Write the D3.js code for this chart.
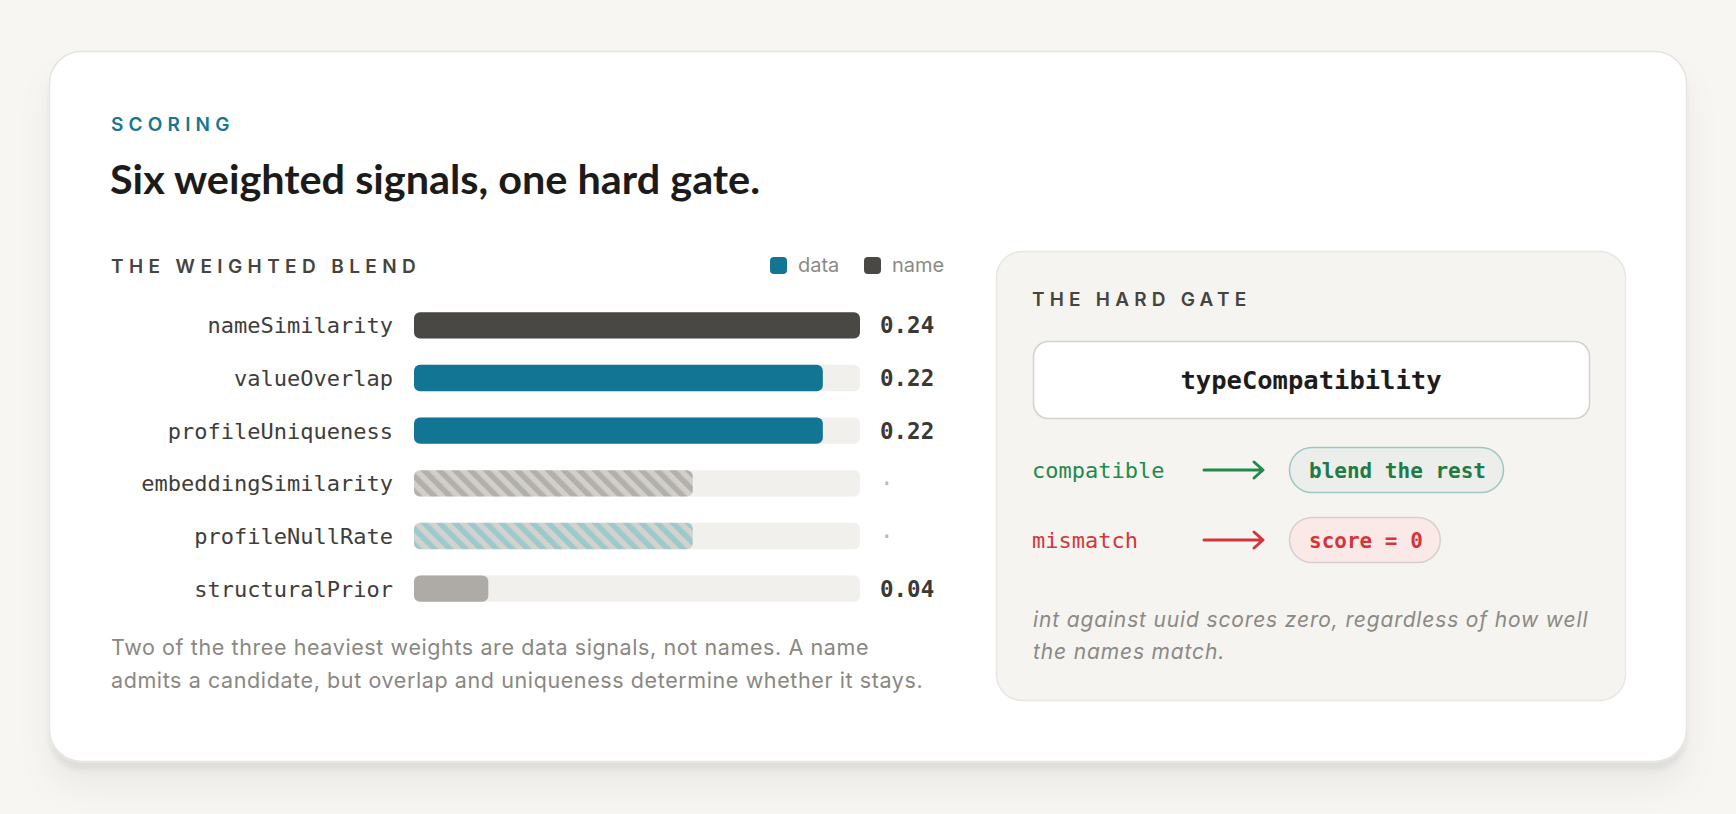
<!DOCTYPE html>
<html>
<head>
<meta charset="utf-8">
<script src="https://cdn.jsdelivr.net/npm/d3@7"></script>
<style>
  html, body { margin: 0; padding: 0; background: #f7f6f3; }
  svg { display: block; }
</style>
</head>
<body>
<svg id="scoring-chart"></svg>
<script>
// ----- Data -----
const signal_names = ["nameSimilarity", "valueOverlap", "profileUniqueness", "embeddingSimilarity", "profileNullRate", "structuralPrior"];
const signal_weights = [0.24, 0.22, 0.22, 0.15, 0.15, 0.04];
const signal_kinds = ["name", "data", "data", "name-off", "data-off", "prior"];
const weight_labels = ["0.24", "0.22", "0.22", "·", "·", "0.04"];
const legend_keys = ["data", "name"];
const gate_outcomes = ["compatible", "mismatch"];
const gate_results = ["blend the rest", "score = 0"];

const MONO = "'DejaVu Sans Mono', monospace";
const SANS = "Inter, 'Noto Sans', sans-serif";

// Colours for each kind of bar
const kind_fill = {
    "name": "#4a4844",
    "data": "#137594",
    "name-off": "url(#hatch-gray)",
    "data-off": "url(#hatch-teal)",
    "prior": "#aeaba6"
};
const legend_color = { data: "#137594", name: "#4a4844" };
const outcome_color = { compatible: "#1f8a4a", mismatch: "#d2363b" };

const width = 1736, height = 814;
const svg = d3.select("#scoring-chart").attr("width", width).attr("height", height);
const defs = svg.append("defs");

// Soft card shadow
const shadow = defs.append("filter").attr("id", "card-shadow")
    .attr("x", "-10%").attr("y", "-10%").attr("width", "120%").attr("height", "130%");
shadow.append("feDropShadow").attr("dx", 0).attr("dy", 24).attr("stdDeviation", 16)
    .attr("flood-color", "#000").attr("flood-opacity", 0.05);
shadow.append("feDropShadow").attr("dx", 0).attr("dy", 8).attr("stdDeviation", 2)
    .attr("flood-color", "#000").attr("flood-opacity", 0.06);

// Diagonal hatch patterns for the signals that are not active
function add_hatch(id, stripe, base) {
    const p = defs.append("pattern").attr("id", id)
        .attr("patternUnits", "userSpaceOnUse")
        .attr("width", 11).attr("height", 11)
        .attr("patternTransform", "rotate(-45)");
    p.append("rect").attr("width", 11).attr("height", 11).attr("fill", base);
    p.append("rect").attr("width", 5.5).attr("height", 11).attr("fill", stripe);
}
add_hatch("hatch-gray", "#b3b0ab", "#d1cfcb");
add_hatch("hatch-teal", "#9ccacc", "#d3d2ce");

// Background card
svg.append("rect")
    .attr("x", 49.5).attr("y", 51.5).attr("width", 1637).attr("height", 710)
    .attr("rx", 32).attr("fill", "#fff")
    .attr("stroke", "#e6e4e0").attr("stroke-width", 1.5)
    .attr("filter", "url(#card-shadow)");

// Eyebrow and title
svg.append("text").attr("x", 111).attr("y", 131)
    .attr("font-family", SANS).attr("font-size", 19).attr("font-weight", 600)
    .attr("letter-spacing", 5.2).attr("fill", "#177793")
    .text("SCORING");
svg.append("text").attr("x", 110).attr("y", 194)
    .attr("font-family", "Lato, sans-serif").attr("font-size", 41).attr("font-weight", 700)
    .attr("textLength", 650).attr("lengthAdjust", "spacingAndGlyphs")
    .attr("fill", "#1c1b19")
    .text("Six weighted signals, one hard gate.");

/*----- WEIGHTED BLEND BAR CHART -----*/
svg.append("text").attr("x", 111).attr("y", 273)
    .attr("font-family", SANS).attr("font-size", 19).attr("font-weight", 600)
    .attr("letter-spacing", 5.4).attr("fill", "#46443f")
    .text("THE WEIGHTED BLEND");

// Legend
const legend = svg.append("g").selectAll("g")
    .data(legend_keys).enter().append("g")
    .attr("transform", (d, i) => `translate(${770 + i * 94},257)`);
legend.append("rect").attr("width", 17).attr("height", 17).attr("rx", 4)
    .attr("fill", d => legend_color[d]);
legend.append("text").attr("x", 28).attr("y", 15)
    .attr("font-family", SANS).attr("font-size", 20).attr("fill", "#8c8984")
    .text(d => d);

// Scales
const bar_x_scale = d3.scaleLinear()
    .domain([0, d3.max(signal_weights)])
    .range([414, 860]);
const bar_y_scale = d3.scaleBand()
    .domain(signal_names)
    .range([299, 615])
    .paddingInner(0.5)
    .paddingOuter(0.25);

const rows = svg.append("g").selectAll("g")
    .data(signal_names.map((name, i) => ({
        name: name, weight: signal_weights[i], kind: signal_kinds[i], label: weight_labels[i]
    })))
    .enter().append("g")
    .attr("transform", d => `translate(0,${bar_y_scale(d.name)})`);

// Track behind each bar
rows.append("rect")
    .attr("x", bar_x_scale(0)).attr("width", bar_x_scale.range()[1] - bar_x_scale(0))
    .attr("height", bar_y_scale.bandwidth()).attr("rx", 6)
    .attr("fill", "#f1f0ed");

// The bar itself
rows.append("rect")
    .attr("x", bar_x_scale(0))
    .attr("width", d => bar_x_scale(d.weight) - bar_x_scale(0))
    .attr("height", bar_y_scale.bandwidth()).attr("rx", 6)
    .attr("fill", d => kind_fill[d.kind]);

// Signal names, right aligned
rows.append("text")
    .attr("x", 393).attr("y", bar_y_scale.bandwidth() / 2).attr("dy", "0.36em")
    .attr("text-anchor", "end")
    .attr("font-family", MONO).attr("font-size", 22).attr("fill", "#3f3d39")
    .text(d => d.name);

// Weight values
rows.append("text")
    .attr("x", d => d.label === "·" ? 880 : 880)
    .attr("y", bar_y_scale.bandwidth() / 2).attr("dy", "0.36em")
    .attr("font-family", MONO).attr("font-size", 22.5)
    .attr("font-weight", d => d.label === "·" ? 400 : 700)
    .attr("fill", d => d.label === "·" ? "#b9b6b1" : "#3b3935")
    .text(d => d.label);

// Caption under the chart
const caption = svg.append("text")
    .attr("font-family", SANS).attr("font-size", 21.5).attr("letter-spacing", 0.6)
    .attr("fill", "#8a8782");
caption.append("tspan").attr("x", 111).attr("y", 655)
    .text("Two of the three heaviest weights are data signals, not names. A name");
caption.append("tspan").attr("x", 111).attr("y", 688)
    .text("admits a candidate, but overlap and uniqueness determine whether it stays.");

/*----- HARD GATE PANEL -----*/
svg.append("rect")
    .attr("x", 996.5).attr("y", 251.5).attr("width", 629).attr("height", 449)
    .attr("rx", 26).attr("fill", "#f5f4f0")
    .attr("stroke", "#e8e7e2").attr("stroke-width", 1.5);

svg.append("text").attr("x", 1032).attr("y", 306)
    .attr("font-family", SANS).attr("font-size", 19).attr("font-weight", 600)
    .attr("letter-spacing", 5.2).attr("fill", "#46443f")
    .text("THE HARD GATE");

svg.append("rect")
    .attr("x", 1033.5).attr("y", 341.5).attr("width", 556).attr("height", 77)
    .attr("rx", 15).attr("fill", "#fff")
    .attr("stroke", "#d4d2cd").attr("stroke-width", 1.5);
svg.append("text").attr("x", 1311).attr("y", 380).attr("dy", "0.36em")
    .attr("text-anchor", "middle")
    .attr("font-family", MONO).attr("font-size", 25.5).attr("font-weight", 700)
    .attr("fill", "#1d1c1a")
    .text("typeCompatibility");

// Outcome rows
const pill_style = {
    compatible: { fill: "#ebeeea", stroke: "#9fc6c3", text: "#1f7a45" },
    mismatch: { fill: "#fbe9e7", stroke: "#d7cfcb", text: "#d2363b" }
};
const gate_y_scale = d3.scalePoint().domain(gate_outcomes).range([470, 540]);

const outcome = svg.append("g").selectAll("g")
    .data(gate_outcomes.map((o, i) => ({ outcome: o, result: gate_results[i] })))
    .enter().append("g")
    .attr("transform", d => `translate(0,${gate_y_scale(d.outcome)})`);

outcome.append("text").attr("x", 1032).attr("dy", "0.36em")
    .attr("font-family", MONO).attr("font-size", 22).attr("fill", d => outcome_color[d.outcome])
    .text(d => d.outcome);

outcome.append("path")
    .attr("d", "M1204,0 H1263 M1254,-8 L1263,0 L1254,8")
    .attr("fill", "none").attr("stroke-width", 3)
    .attr("stroke-linecap", "round").attr("stroke-linejoin", "round")
    .attr("stroke", d => outcome_color[d.outcome]);

const pill_text = outcome.append("text").attr("x", 1309).attr("dy", "0.36em")
    .attr("font-family", MONO).attr("font-size", 21).attr("font-weight", 700)
    .attr("fill", d => pill_style[d.outcome].text)
    .text(d => d.result);

// Pills sized from their text
outcome.insert("rect", "text:last-of-type")
    .each(function (d, i) {
        const tw = pill_text.nodes()[i].getComputedTextLength();
        d3.select(this)
            .attr("x", 1289.5).attr("y", -22.5)
            .attr("width", tw + 37).attr("height", 45).attr("rx", 22.5)
            .attr("fill", pill_style[d.outcome].fill)
            .attr("stroke", pill_style[d.outcome].stroke).attr("stroke-width", 1.5);
    });

const note = svg.append("text")
    .attr("font-family", SANS).attr("font-size", 21).attr("font-style", "italic")
    .attr("letter-spacing", 0.85).attr("fill", "#8c8984");
note.append("tspan").attr("x", 1033).attr("y", 627)
    .text("int against uuid scores zero, regardless of how well");
note.append("tspan").attr("x", 1033).attr("y", 659)
    .text("the names match.");
</script>
</body>
</html>
